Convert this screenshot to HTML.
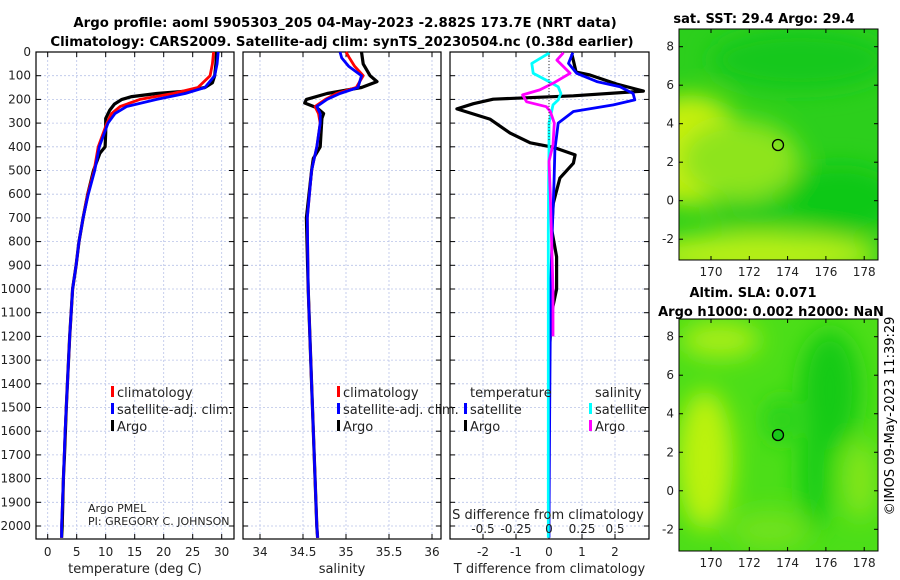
<!DOCTYPE html>
<html><head><meta charset="utf-8"><style>
html,body{margin:0;padding:0;background:#fff;}
svg{display:block;font-family:"DejaVu Sans","Liberation Sans",sans-serif;}
</style></head><body>
<svg id="c" width="900" height="580" viewBox="0 0 900 580" xmlns="http://www.w3.org/2000/svg">
<defs>
<filter id="bl" x="-50%" y="-50%" width="200%" height="200%"><feGaussianBlur stdDeviation="12"/></filter>
<clipPath id="m1"><rect x="679" y="29" width="199" height="231"/></clipPath>
<clipPath id="m2"><rect x="679" y="319" width="199" height="232"/></clipPath>
</defs>
<text x="345" y="27" text-anchor="middle" font-size="13.3" font-weight="bold">Argo profile: aoml 5905303_205 04-May-2023 -2.882S 173.7E (NRT data)</text>
<text x="342" y="46" text-anchor="middle" font-size="13.3" font-weight="bold">Climatology: CARS2009. Satellite-adj clim: synTS_20230504.nc (0.38d earlier)</text>

<!-- map 1 -->
<g clip-path="url(#m1)">
<rect x="679" y="29" width="199" height="231" fill="#2ccf1c"/>
<g filter="url(#bl)">
<ellipse cx="690" cy="150" rx="55" ry="55" fill="#c8f010"/>
<ellipse cx="740" cy="160" rx="60" ry="40" fill="#8ee41c"/>
<ellipse cx="760" cy="255" rx="120" ry="22" fill="#b8f012"/>
<ellipse cx="840" cy="200" rx="60" ry="35" fill="#10c818"/>
<ellipse cx="800" cy="60" rx="90" ry="30" fill="#12c81a"/>
<ellipse cx="760" cy="215" rx="50" ry="15" fill="#18cb1a"/>
</g>
<circle cx="778" cy="145" r="5.5" fill="none" stroke="#000" stroke-width="1.3"/>
</g>
<rect x="679" y="29" width="199" height="231" fill="none" stroke="#000" stroke-width="1"/>
<text x="764" y="23" text-anchor="middle" font-size="13" font-weight="bold">sat. SST: 29.4 Argo: 29.4</text>

<!-- map 2 -->
<g clip-path="url(#m2)">
<rect x="679" y="319" width="199" height="232" fill="#4cde18"/>
<g filter="url(#bl)">
<ellipse cx="705" cy="460" rx="28" ry="70" fill="#bcf210"/>
<ellipse cx="720" cy="340" rx="40" ry="18" fill="#a8ee14"/>
<ellipse cx="830" cy="390" rx="30" ry="60" fill="#12ca18"/>
<ellipse cx="815" cy="470" rx="16" ry="60" fill="#16cc18"/>
<ellipse cx="780" cy="420" rx="14" ry="22" fill="#24d01a"/>
<ellipse cx="860" cy="480" rx="15" ry="40" fill="#88e61a"/>
<ellipse cx="770" cy="530" rx="40" ry="20" fill="#70e21a"/>
</g>
<circle cx="778" cy="435" r="5.5" fill="#18c818" stroke="#000" stroke-width="1.3"/>
</g>
<rect x="679" y="319" width="199" height="232" fill="none" stroke="#000" stroke-width="1"/>
<text x="753" y="297" text-anchor="middle" font-size="13" font-weight="bold">Altim. SLA: 0.071</text>
<text x="771" y="316" text-anchor="middle" font-size="13" font-weight="bold">Argo h1000: 0.002 h2000: NaN</text>
<text transform="translate(894,416) rotate(-90)" text-anchor="middle" font-size="13">©IMOS 09-May-2023 11:39:29</text>
<g id="g"></g>
</svg>
<script>
// ---- data ----
const depthTicks=[0,100,200,300,400,500,600,700,800,900,1000,1100,1200,1300,1400,1500,1600,1700,1800,1900,2000];
const tempTicks=[0,5,10,15,20,25,30];
const salTicks=[34,34.5,35,35.5,36];
const tdiffTicks=[-2,-1,0,1,2];
const sdiffTicks=[-0.5,-0.25,0,0.25,0.5];
const latTicks=[-2,0,2,4,6,8];
const lonTicks=[170,172,174,176,178];

const argoDepth=[0,50,100,130,150,165,175,188,200,220,245,280,340,400,427,500,600,700,800,900,1000,1200,1400,1500,1700,1800,2000,2050];
const argoTemp=[29.1,29.0,28.8,28.4,27.1,24.0,18.8,14.5,12.8,11.5,10.7,10.0,10.0,9.9,9.0,7.9,6.9,6.1,5.4,4.9,4.3,3.8,3.4,3.2,2.9,2.7,2.5,2.4];
const climDepth=[0,50,100,150,175,200,230,260,300,400,500,600,700,800,900,1000,1200,1400,1600,1800,2000,2050];
const climTemp=[28.6,28.4,28.0,25.9,21.6,15.9,12.5,11.0,10.2,8.7,8.0,6.9,6.1,5.4,4.9,4.3,3.8,3.4,3.0,2.7,2.4,2.4];
const satTemp=[29.4,29.2,28.8,27.1,23.7,18.8,13.6,11.6,10.4,8.9,8.1,7.0,6.1,5.4,4.9,4.3,3.8,3.4,3.0,2.7,2.4,2.4];

const argoSalDepth=[0,50,100,125,150,175,200,215,235,260,280,400,450,500,700,1000,1400,2000,2050];
const argoSal=[35.18,35.2,35.28,35.36,35.18,34.78,34.54,34.52,34.66,34.74,34.72,34.70,34.62,34.6,34.54,34.56,34.6,34.66,34.67];
const climSalDepth=[0,25,60,100,150,175,200,230,260,300,400,500,700,1000,1400,2000,2050];
const climSal=[35.0,35.04,35.1,35.2,35.12,34.89,34.76,34.64,34.68,34.70,34.66,34.6,34.55,34.56,34.6,34.66,34.67];
const satSal=[34.93,34.95,35.03,35.18,35.14,34.93,34.78,34.66,34.7,34.7,34.66,34.6,34.55,34.56,34.6,34.66,34.67];

const dArgoDepth=[8,85,97,135,165,185,199,218,240,283,342,383,402,434,469,532,638,747,864,1000,1100,1240];
const dArgoT=[0.69,0.82,1.24,2.05,2.86,0.74,-1.69,-2.29,-2.79,-1.79,-1.18,-0.57,0.13,0.79,0.74,0.33,0.13,0.08,0.23,0.23,0.08,0.02];
const dSatDepth=[3,48,90,125,147,175,202,223,251,300,412,553,750,1000,1500,2000,2050];
const dSatT=[0.72,0.59,0.84,1.45,2.15,2.55,2.6,1.95,0.74,0.28,0.18,0.15,0.1,0.05,0.02,0.0,0.0];
const dSatS=[0.005,-0.13,-0.12,0.0,0.07,0.09,0.07,0.03,0.02,0.0,0.0,-0.003,-0.005,-0.005,-0.005,-0.005,-0.005];
const dArgoSDepth=[3,34,90,132,160,181,210,231,251,300,391,461,600,800,1000,1200];
const dArgoS=[0.11,0.06,0.16,0.03,-0.07,-0.2,-0.17,-0.02,0.01,0.04,0.03,0.0,0.01,0.02,0.03,0.03];

// ---- scales ----
const Y0=52, Yb=539, PPD=0.237;
const y=d=>Y0+d*PPD;
const xT=v=>47.7+v*5.8;
const xS=v=>260+(v-34)*86;
const xDT=v=>549+v*33;
const xDS=v=>549+v*132;
const mx=l=>711+(l-170)*19.15;
const my1=l=>46.7-(l-8)*19.25;
const my2=l=>336.7-(l-8)*19.26;

const NS="http://www.w3.org/2000/svg";
const G=document.getElementById('g');
function el(t,a,p){const e=document.createElementNS(NS,t);for(const k in a)e.setAttribute(k,a[k]);(p||G).appendChild(e);return e;}
function txt(x,yy,s,a,p){const e=el('text',Object.assign({x:x,y:yy,'font-size':12,fill:'#222'},a||{}),p);e.textContent=s;return e;}

const panels=[
 {L:36,R:234,name:'temperature-panel',ticks:tempTicks,f:xT,xt:'temperature (deg C)'},
 {L:243,R:441,name:'salinity-panel',ticks:salTicks,f:xS,xt:'salinity'},
 {L:450,R:649,name:'difference-panel',ticks:tdiffTicks,f:xDT,xt:'T difference from climatology'}
];
panels.forEach((P,i)=>{
  const g=el('g',{});
  
  
  depthTicks.forEach(d=>{
    el('line',{x1:P.L,x2:P.R,y1:y(d),y2:y(d),stroke:'#b9c3e8','stroke-width':0.8,'stroke-dasharray':'2,2'},g);
    el('line',{x1:P.L,x2:P.L+5,y1:y(d),y2:y(d),stroke:'#000'},g);
    el('line',{x1:P.R,x2:P.R-5,y1:y(d),y2:y(d),stroke:'#000'},g);
  });
  P.ticks.forEach(v=>{
    const x=P.f(v);
    el('line',{x1:x,x2:x,y1:Y0,y2:Yb,stroke:'#b9c3e8','stroke-width':0.8,'stroke-dasharray':'2,2'},g);
    el('line',{x1:x,x2:x,y1:Yb,y2:Yb-5,stroke:'#000'},g);
    el('line',{x1:x,x2:x,y1:Y0,y2:Y0+5,stroke:'#000'},g);
    const t=txt(x,556,String(v),{'text-anchor':'middle'},g);
    
    
  });
  el('rect',{x:P.L,y:Y0,width:P.R-P.L,height:Yb-Y0,fill:'none',stroke:'#000','stroke-width':1.2},g);
  const xt=txt((P.L+P.R)/2,573,P.xt,{'text-anchor':'middle','font-size':13},g);
  
  
});
depthTicks.forEach(d=>{
  const t=txt(31,y(d)+4,String(d),{'text-anchor':'end'});
  
  
});

function line(xs,ds,fx,color,w,nm){
  const pts=xs.map((v,i)=>fx(v).toFixed(1)+','+y(ds[i]).toFixed(1)).join(' ');
  const p=el('polyline',{points:pts,fill:'none',stroke:color,'stroke-width':w,'stroke-linejoin':'round'});
  
  
}
line(argoTemp,argoDepth,xT,'#000',3.2,'argo-temperature-line');
line(climTemp,climDepth,xT,'#f00',2.8,'climatology-temperature-line');
line(satTemp,climDepth,xT,'#00f',2.8,'satellite-temperature-line');
line(argoSal,argoSalDepth,xS,'#000',3.2,'argo-salinity-line');
line(climSal,climSalDepth,xS,'#f00',2.8,'climatology-salinity-line');
line(satSal,climSalDepth,xS,'#00f',2.8,'satellite-salinity-line');
line(dArgoT,dArgoDepth,xDT,'#000',3.2,'argo-t-diff-line');
line(dSatT,dSatDepth,xDT,'#00f',2.8,'satellite-t-diff-line');
line(dSatS,dSatDepth,xDS,'#0ff',2.8,'satellite-s-diff-line');
line(dArgoS,dArgoSDepth,xDS,'#f0f',2.8,'argo-s-diff-line');
el('line',{x1:xDT(0),x2:xDT(0),y1:Y0,y2:Y0+90,stroke:'#333','stroke-dasharray':'1,2','stroke-width':1});

// legends
function leg(x,yy,c,s){
  const g=el('g',{});
  
  
  el('rect',{x:x,y:yy-11,width:3,height:11,fill:c},g);
  txt(x+6,yy,s,{'font-size':13},g);
}
[[111,'climatology'],[337,'climatology']].forEach(a=>leg(a[0],397,'#f00',a[1]));
leg(111,414,'#00f','satellite-adj. clim.');leg(337,414,'#00f','satellite-adj. clim.');
leg(111,431,'#000','Argo');leg(337,431,'#000','Argo');
txt(470,397,'temperature',{'font-size':13});
txt(595,397,'salinity',{'font-size':13});
leg(464,414,'#00f','satellite');leg(464,431,'#000','Argo');
leg(589,414,'#0ff','satellite');leg(589,431,'#f0f','Argo');
txt(88,512,'Argo PMEL',{'font-size':11});
txt(88,525,'PI: GREGORY C. JOHNSON',{'font-size':11});
txt(548,519,'S difference from climatology',{'text-anchor':'middle','font-size':13});
sdiffTicks.forEach(v=>{
  const t=txt(xDS(v)/1,533,String(v),{'text-anchor':'middle','font-size':12});
  
  
});

// map ticks
function mapAxes(Ltop,Lbot,fy){
  latTicks.forEach(l=>{
    const yy=fy(l);
    el('line',{x1:679,x2:683,y1:yy,y2:yy,stroke:'#000'});
    el('line',{x1:878,x2:874,y1:yy,y2:yy,stroke:'#000'});
    txt(674,yy+4,String(l),{'text-anchor':'end'});
  });
  lonTicks.forEach(l=>{
    const x=mx(l);
    el('line',{x1:x,x2:x,y1:Lbot,y2:Lbot-4,stroke:'#000'});
    el('line',{x1:x,x2:x,y1:Ltop,y2:Ltop+4,stroke:'#000'});
    txt(x,Lbot+16,String(l),{'text-anchor':'middle'});
  });
}
mapAxes(29,260,my1);
mapAxes(319,551,my2);
</script>
</body></html>
